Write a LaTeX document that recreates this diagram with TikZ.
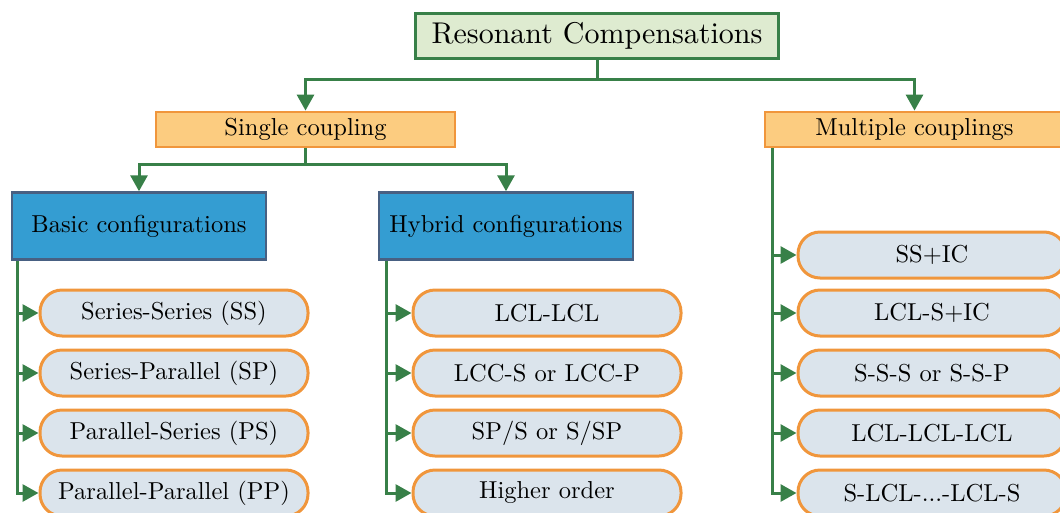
\documentclass[tikz,border=0pt]{standalone}
\usepackage{fontspec}
\setmainfont{lmroman10-regular}[Extension=.otf]
\usetikzlibrary{arrows.meta,calc}

\definecolor{linegreen}{RGB}{56,128,72}
\definecolor{titlefill}{RGB}{222,235,208}
\definecolor{catfill}{RGB}{252,204,128}
\definecolor{catedge}{RGB}{240,150,60}
\definecolor{cfgfill}{RGB}{52,157,210}
\definecolor{cfgedge}{RGB}{72,96,130}
\definecolor{pillfill}{RGB}{219,228,236}

\begin{document}
\begin{tikzpicture}[x=1pt,y=-1pt,
  every node/.style={inner sep=0pt, font=\fontsize{24.5}{29}\selectfont},
  titlebox/.style={draw=linegreen, fill=titlefill, line width=3pt,
    minimum width=363pt, minimum height=45pt, font=\fontsize{30}{36}\selectfont},
  catbox/.style={draw=catedge, fill=catfill, line width=2.8pt,
    minimum width=299pt, minimum height=35pt},
  cfgbox/.style={draw=cfgedge, fill=cfgfill, line width=2.5pt,
    minimum width=254pt, minimum height=67pt},
  pill/.style={draw=catedge, fill=pillfill, line width=3pt, rounded corners=22pt,
    minimum width=268pt, minimum height=46pt},
  link/.style={draw=linegreen, line width=3pt},
  arrowlink/.style={link, -{Triangle[length=16pt,width=17pt]}}
]
\useasboundingbox (0,0) rectangle (1060,512);

% hierarchy boxes
\node[titlebox] (root)   at (597,35.5)  {Resonant Compensations};
\node[catbox]   (single) at (305.5,129.5) {Single coupling};
\node[catbox]   (multi)  at (914.5,129.5) {Multiple couplings};
\node[cfgbox]   (basic)  at (139,226)   {Basic configurations};
\node[cfgbox]   (hybrid) at (506,226)   {Hybrid configurations};

% basic configurations
\node[pill] (ss) at (174,313) {Series-Series (SS)};
\node[pill] (sp) at (174,373) {Series-Parallel (SP)};
\node[pill] (ps) at (174,433) {Parallel-Series (PS)};
\node[pill] (pp) at (174,493) {Parallel-Parallel (PP)};

% hybrid configurations
\node[pill] (h1) at (547,313) {LCL-LCL};
\node[pill] (h2) at (547,373) {LCC-S or LCC-P};
\node[pill] (h3) at (547,433) {SP/S or S/SP};
\node[pill] (h4) at (547,493) {Higher order};

% multiple couplings
\node[pill] (m1) at (932,255) {SS+IC};
\node[pill] (m2) at (932,313) {LCL-S+IC};
\node[pill] (m3) at (932,373) {S-S-S or S-S-P};
\node[pill] (m4) at (932,433) {LCL-LCL-LCL};
\node[pill] (m5) at (932,493) {S-LCL-...-LCL-S};

% tree connectors
\draw[link] (root.south) -- ++(0,19.5) coordinate (rj);
\draw[arrowlink] (rj) -| (single.north);
\draw[arrowlink] (rj) -| (multi.north);
\draw[link] (single.south) -- ++(0,16) coordinate (sj);
\draw[arrowlink] (sj) -| (basic.north);
\draw[arrowlink] (sj) -| (hybrid.north);

% side rails with branches
\coordinate (bt) at ($(basic.south west)+(7,0)$);
\draw[arrowlink] (bt) |- (pp.west);
\foreach \n in {ss,sp,ps} \draw[arrowlink] (bt |- \n.west) -- (\n.west);

\coordinate (ht) at ($(hybrid.south west)+(9,0)$);
\draw[arrowlink] (ht) |- (h4.west);
\foreach \n in {h1,h2,h3} \draw[arrowlink] (ht |- \n.west) -- (\n.west);

\coordinate (mt) at ($(multi.south west)+(8.5,0)$);
\draw[arrowlink] (mt) |- (m5.west);
\foreach \n in {m1,m2,m3,m4} \draw[arrowlink] (mt |- \n.west) -- (\n.west);
\end{tikzpicture}
\end{document}
